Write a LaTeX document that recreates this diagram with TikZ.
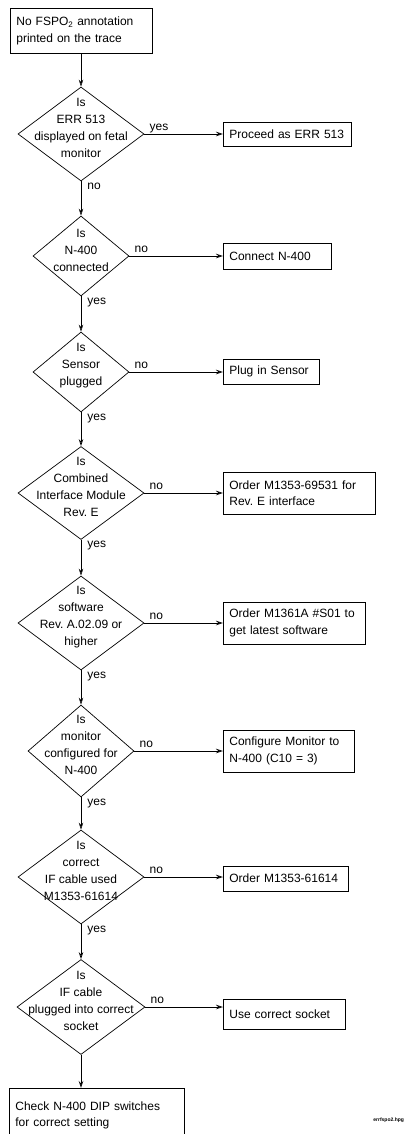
\documentclass[tikz,border=0pt]{standalone}
\usepackage{fontspec}
\setmainfont{Liberation Sans}
\frenchspacing
\usetikzlibrary{shapes.geometric, arrows.meta}

\tikzset{
  act/.style={draw, rectangle, anchor=west, align=left, inner xsep=6pt, inner ysep=0pt,
    font=\fontsize{12}{16.5}\selectfont},
  ask/.style={draw, diamond, inner sep=0pt},
  asktext/.style={align=center, inner sep=0pt, yshift=6pt, font=\fontsize{12}{17}\selectfont},
  flow/.style={-{Stealth[length=7pt, width=4.5pt, open]}},
  tag/.style={inner sep=1pt, text height=6.5pt, text depth=2.5pt, font=\fontsize{12}{14}\selectfont}
}

\begin{document}
\begin{tikzpicture}[x=1pt, y=-1pt, line width=0.7pt]
  \useasboundingbox (0,0) rectangle (412,1134);
  \clip (0,0) rectangle (412,1134);

  \node[act, anchor=north west, text width=130pt, minimum height=45pt] (start) at (10,8)
    {No FSPO\textsubscript{2} annotation\\printed on the trace};

  % the questions, all on one vertical line
  \node[ask, minimum width=126pt, minimum height=94pt,
    label={[asktext]center:{Is\\ERR 513\\displayed on fetal\\monitor}}] (q1) at (81,134) {};
  \node[ask, minimum width=96pt, minimum height=80pt,
    label={[asktext]center:{Is\\N-400\\connected}}] (q2) at (81,256) {};
  \node[ask, minimum width=96pt, minimum height=80pt,
    label={[asktext]center:{Is\\Sensor\\plugged}}] (q3) at (81,372) {};
  \node[ask, minimum width=126pt, minimum height=93pt,
    label={[asktext]center:{Is\\Combined\\Interface Module\\Rev. E}}] (q4) at (81,493) {};
  \node[ask, minimum width=126pt, minimum height=94pt,
    label={[asktext]center:{Is\\software\\Rev. A.02.09 or\\higher}}] (q5) at (81,623) {};
  \node[ask, minimum width=106pt, minimum height=92pt,
    label={[asktext]center:{Is\\monitor\\configured for\\N-400}}] (q6) at (81,751) {};
  \node[ask, minimum width=126pt, minimum height=94pt,
    label={[asktext]center:{Is\\correct\\IF cable used\\M1353-61614}}] (q7) at (81,877) {};
  \node[ask, minimum width=128pt, minimum height=95pt,
    label={[asktext]center:{Is\\IF cable\\plugged into correct\\socket}}] (q8) at (81,1007) {};

  % the actions on the right
  \node[act, text width=116pt, minimum height=24pt] (r1) at (223,134) {Proceed as ERR 513};
  \node[act, text width=96pt, minimum height=26pt] (r2) at (223,256) {Connect N-400};
  \node[act, text width=84pt, minimum height=25pt] (r3) at (223,371.5) {Plug in Sensor};
  \node[act, text width=140pt, minimum height=42pt] (r4) at (223,493) {Order M1353-69531 for\\Rev. E interface};
  \node[act, text width=130pt, minimum height=42pt] (r5) at (223,623) {Order M1361A \#S01 to\\get latest software};
  \node[act, text width=119pt, minimum height=42pt] (r6) at (223,751) {Configure Monitor to\\N-400 (C10 = 3)};
  \node[act, text width=113pt, minimum height=25pt] (r7) at (223,878.5) {Order M1353-61614};
  \node[act, text width=110pt, minimum height=30pt] (r8) at (223,1014) {Use correct socket};

  \node[act, anchor=north west, text width=163pt, minimum height=54pt] (done) at (9,1088)
    {Check N-400 DIP switches\\for correct setting};

  \node[anchor=west, inner sep=0pt, font=\bfseries\fontsize{5}{6}\selectfont] (fname) at (373,1120) {errfspo2.hpg};

  % down the main line
  \draw[flow] (start.south -| q1.north) -- (q1.north);
  \draw[flow] (q1.south) -- node[tag, pos=0, anchor=north west, xshift=5pt] {no} (q2.north);
  \draw[flow] (q2.south) -- node[tag, pos=0, anchor=north west, xshift=5pt] {yes} (q3.north);
  \draw[flow] (q3.south) -- node[tag, pos=0, anchor=north west, xshift=5pt] {yes} (q4.north);
  \draw[flow] (q4.south) -- node[tag, pos=0, anchor=north west, xshift=5pt] {yes} (q5.north);
  \draw[flow] (q5.south) -- node[tag, pos=0, anchor=north west, xshift=5pt] {yes} (q6.north);
  \draw[flow] (q6.south) -- node[tag, pos=0, anchor=north west, xshift=5pt] {yes} (q7.north);
  \draw[flow] (q7.south) -- node[tag, pos=0, anchor=north west, xshift=5pt] {yes} (q8.north);
  \draw[flow] (q8.south) -- (q8.south |- done.north);

  % out to the right
  \draw[flow] (q1.east) -- node[tag, pos=0, anchor=south west, xshift=4pt] {yes} (q1.east -| r1.west);
  \draw[flow] (q2.east) -- node[tag, pos=0, anchor=south west, xshift=4pt] {no} (q2.east -| r2.west);
  \draw[flow] (q3.east) -- node[tag, pos=0, anchor=south west, xshift=4pt] {no} (q3.east -| r3.west);
  \draw[flow] (q4.east) -- node[tag, pos=0, anchor=south west, xshift=4pt] {no} (q4.east -| r4.west);
  \draw[flow] (q5.east) -- node[tag, pos=0, anchor=south west, xshift=4pt] {no} (q5.east -| r5.west);
  \draw[flow] (q6.east) -- node[tag, pos=0, anchor=south west, xshift=4pt] {no} (q6.east -| r6.west);
  \draw[flow] (q7.east) -- node[tag, pos=0, anchor=south west, xshift=4pt] {no} (q7.east -| r7.west);
  \draw[flow] (q8.east) -- node[tag, pos=0, anchor=south west, xshift=4pt] {no} (q8.east -| r8.west);
\end{tikzpicture}
\end{document}
